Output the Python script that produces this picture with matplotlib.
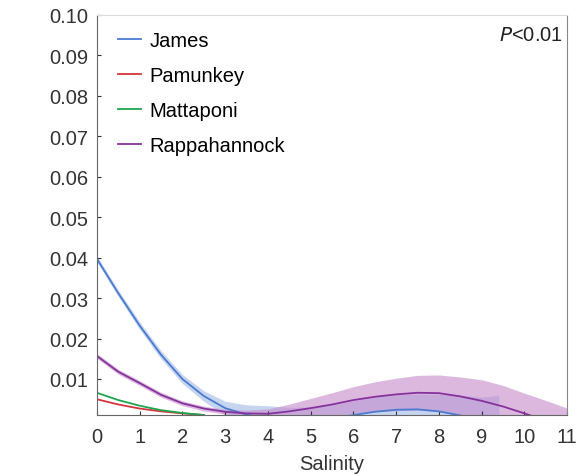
import numpy as np
import matplotlib
matplotlib.use('Agg')
import matplotlib.pyplot as plt

plt.rcParams['font.family'] = ['Liberation Sans', 'DejaVu Sans']

# значения (шаг 0.5 по солёности)
james_x = [0, 0.5, 1, 1.5, 2, 2.5, 3, 3.5, 4, 4.5, 5, 5.5, 6, 6.5, 7, 7.5, 8, 8.5, 9, 9.4]
james_y = [0.0397, 0.0312, 0.0232, 0.0160, 0.0100, 0.0058, 0.0028, 0.0012, 0.0002,
           -0.0003, -0.0002, 0.0003, 0.0011, 0.0019, 0.0024, 0.0025, 0.0020, 0.0010,
           -0.0010, -0.0035]
james_ci = [0.0007, 0.0008, 0.0009, 0.0010, 0.0011, 0.0013, 0.0017, 0.0024, 0.0032,
            0.0033, 0.0033, 0.0033, 0.0035, 0.0036, 0.0037, 0.0038, 0.0042, 0.0050,
            0.0065, 0.0095]

pam_x = [0, 0.5, 1, 1.5, 2, 2.5]
pam_y = [0.0050, 0.0037, 0.0027, 0.0020, 0.0015, 0.0011]

mat_x = [0, 0.5, 1, 1.5, 2, 2.5]
mat_y = [0.0066, 0.0048, 0.0034, 0.0023, 0.0016, 0.0011]

rap_x = [0, 0.5, 1, 1.5, 2, 2.5, 3, 3.5, 4, 4.5, 5, 5.5, 6, 6.5, 7, 7.5, 8, 8.5, 9,
         9.5, 10, 10.5, 11]
rap_y = [0.0157, 0.0118, 0.0090, 0.0061, 0.0040, 0.0027, 0.0019, 0.0015, 0.0014,
         0.0020, 0.0028, 0.0037, 0.0048, 0.0056, 0.0062, 0.0066, 0.0065, 0.0057,
         0.0046, 0.0032, 0.0015, -0.0003, -0.0025]
rap_ci = [0.0006, 0.0006, 0.0006, 0.0006, 0.0006, 0.0006, 0.0006, 0.0008, 0.0012,
          0.0018, 0.0024, 0.0029, 0.0033, 0.0037, 0.0040, 0.0043, 0.0045, 0.0048,
          0.0052, 0.0052, 0.0050, 0.0050, 0.0053]

x_ticks = list(range(0, 12))
y_ticks = [0.01, 0.02, 0.03, 0.04, 0.05, 0.06, 0.07, 0.08, 0.09, 0.10]

fig = plt.figure(figsize=(5.8, 4.77), dpi=100)
ax = fig.add_axes([0.167, 0.127, 0.811, 0.840])

# доверительные полосы: сначала голубая, поверх полупрозрачная сиреневая
jx, jy, jc = np.array(james_x), np.array(james_y), np.array(james_ci)
ax.fill_between(jx, jy - jc, jy + jc, color='#c6d4ef', lw=0)
rx, ry, rc = np.array(rap_x), np.array(rap_y), np.array(rap_ci)
ax.fill_between(rx, ry - rc, ry + rc, color='#c58acb', alpha=0.6, lw=0)

ax.plot(james_x, james_y, color='#4a7bd0', lw=1.3, label='James')
ax.plot(pam_x, pam_y, color='#d8343f', lw=1.3, label='Pamunkey')
ax.plot(mat_x, mat_y, color='#1fa44e', lw=1.3, label='Mattaponi')
ax.plot(rap_x, rap_y, color='#86329c', lw=1.3, label='Rappahannock')

ax.set_xlim(0, 11)
ax.set_ylim(0.001, 0.10)
ax.set_xticks(x_ticks)
ax.set_yticks(y_ticks)
ax.set_yticklabels(['%.2f' % v for v in y_ticks])
ax.tick_params(direction='in', length=3, labelsize=14.5, colors='#333333', width=0.8)
ax.tick_params(axis='x', pad=8)
ax.tick_params(axis='y', pad=6)
ax.set_xlabel('Salinity', fontsize=14.5, color='#333333', labelpad=6)

ax.spines['left'].set_color('#666666')
ax.spines['bottom'].set_color('#666666')
ax.spines['right'].set_color('#888888')
ax.spines['top'].set_color('#dddddd')

ax.text(0.99, 0.975, r'$\it{P}$<0.01', transform=ax.transAxes, ha='right', va='top',
        fontsize=14.5, color='#222222')

ax.legend(loc='upper left', bbox_to_anchor=(0.045, 0.96), frameon=False, fontsize=14.5,
          handlelength=1.15, labelspacing=0.8, borderaxespad=0, borderpad=0,
          handletextpad=0.4)

fig.savefig('out.png', dpi=100)
